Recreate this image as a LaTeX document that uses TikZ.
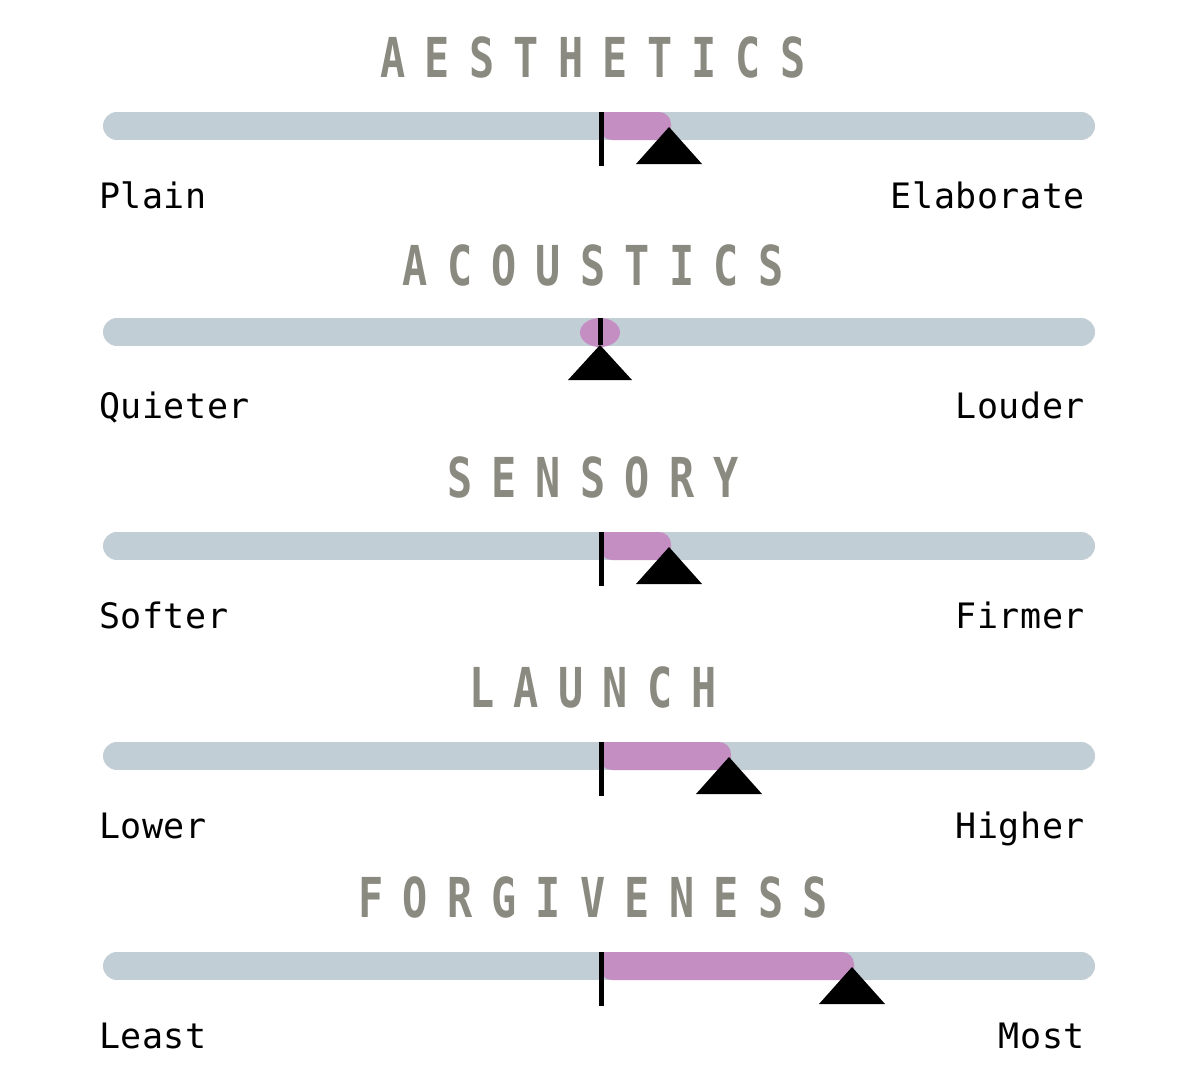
\documentclass[tikz,border=0pt]{standalone}
\usepackage{fontspec}
\newfontfamily\headfont[FakeStretch=0.76,LetterSpace=35]{DejaVu Sans Mono Bold}
\newfontfamily\labfont[LetterSpace=1.5]{DejaVu Sans Mono}
\definecolor{barcol}{RGB}{194,206,213}
\definecolor{pinkcol}{RGB}{196,142,194}
\definecolor{headcol}{RGB}{138,138,128}
\begin{document}
\begin{tikzpicture}[x=1pt,y=-1pt,
  headtxt/.style={anchor=base,text=headcol,inner sep=0pt,font=\headfont\fontsize{55}{60}\selectfont},
  labtxt/.style={inner sep=0pt,text=black,font=\labfont\fontsize{35}{40}\selectfont},
  track/.style={line width=28pt,line cap=round,barcol},
  fillbar/.style={fill=pinkcol},
  tickline/.style={line width=5pt,black},
  pointer/.style={fill=black}]
\useasboundingbox (0,0) rectangle (1200,1085);
\fill[white] (0,0) rectangle (1200,1085);
% rows: bar centre, title baseline, label baseline, apex x, name, left, right
\foreach \yc/\yt/\yl/\ax/\ttl/\lt/\rt/\id in {
  126/77/208/669/AESTHETICS/Plain/Elaborate/a,
  546/497/628/669/SENSORY/Softer/Firmer/c,
  756/707/838/729/LAUNCH/Lower/Higher/d,
  966/917/1048/852/FORGIVENESS/Least/Most/e}{
  \coordinate (L\id) at (117,\yc);
  \coordinate (R\id) at (1081,\yc);
  \draw[track] (L\id) -- (R\id);
  \fill[fillbar,rounded corners=12pt] (600,\yc-14) -- (\ax+2,\yc-14) -- (\ax+2,\yc+14) -- (600,\yc+14) [sharp corners] -- cycle;
  \coordinate (T\id) at (601,\yc-14);
  \coordinate (B\id) at (601,\yc+40);
  \draw[tickline] (T\id) -- (B\id);
  \coordinate (P\id) at (\ax,\yc+1);
  \fill[pointer] (P\id) -- ++(33,37) -- ++(-66,0) -- cycle;
  \node[headtxt] (H\id) at (593,\yt) {\ttl};
  \node[labtxt,anchor=base west] (A\id) at (99,\yl) {\lt};
  \node[labtxt,anchor=base east] (Z\id) at (1085,\yl) {\rt};
}
% acoustics row
\coordinate (Lb) at (117,332);
\coordinate (Rb) at (1081,332);
\draw[track] (Lb) -- (Rb);
\fill[fillbar] (600,332.5) ellipse [x radius=20pt, y radius=14.5pt];
\coordinate (Pb) at (600,345);
\coordinate (Tb) at (600,318);
\draw[tickline] (Tb) -- (Pb);
\fill[pointer] (Pb) -- ++(32,35) -- ++(-64,0) -- cycle;
\node[headtxt] (Hb) at (593,285) {ACOUSTICS};
\node[labtxt,anchor=base west] (Ab) at (99,418) {Quieter};
\node[labtxt,anchor=base east] (Zb) at (1085,418) {Louder};
\end{tikzpicture}
\end{document}
